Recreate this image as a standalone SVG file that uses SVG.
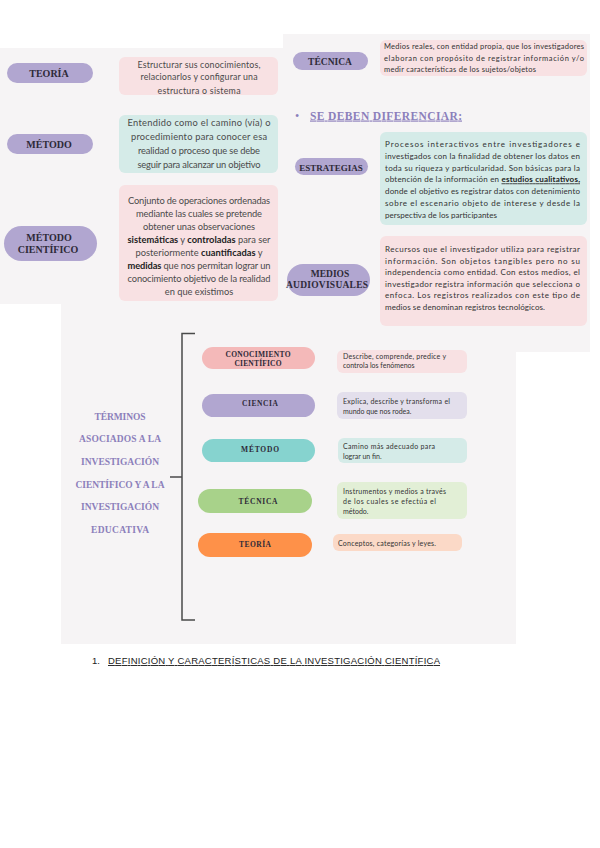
<svg xmlns="http://www.w3.org/2000/svg" width="600" height="848" viewBox="0 0 600 848">
<style>
.panel{fill:#f6f4f5}
.pl{fill:#b1a6d0}
.bpink{fill:#f8e1e3}
.bteal{fill:#d5ebe8}
.lbl{font-family:"Liberation Serif","DejaVu Serif",serif;font-weight:bold;fill:#2e2a38;text-anchor:middle}
.body{font-family:Lato,"Open Sans",sans-serif;fill:#4a4a4a}
.bodyc{font-family:Lato,"Open Sans",sans-serif;fill:#4a4a4a;text-anchor:middle}
.dark{fill:#333}
.ttl{font-family:"Liberation Serif","DejaVu Serif",serif;font-weight:bold;fill:#8c7fbb;text-anchor:middle}
.b{font-weight:bold;fill:#222}
</style>
<rect width="600" height="848" fill="#ffffff"/>
<g id="backgrounds">
<rect class="panel" x="0" y="48" width="283" height="256"/>
<rect class="panel" x="283" y="34" width="307" height="318"/>
<rect class="panel" x="61" y="303" width="455" height="341"/>
</g>

<g id="connectors" fill="none" stroke="#4a4a4a" stroke-width="1.5">
<polyline points="195,333.5 182,333.5 182,620 195,620"/>
<line x1="170" y1="477" x2="182" y2="477"/>
</g>

<g id="n-teoria">
<rect class="pl" x="7" y="63" width="86" height="20" rx="10"/>
<text class="lbl" x="49" y="77" font-size="10">TEORÍA</text>
</g>
<g id="d-teoria">
<rect class="bpink" x="119" y="57" width="159" height="38" rx="6"/>
<text class="bodyc" x="199" y="68" font-size="8.8" textLength="123">Estructurar sus conocimientos,</text>
<text class="bodyc" x="199" y="80" font-size="8.8" textLength="117">relacionarlos y configurar una</text>
<text class="bodyc" x="199" y="93.5" font-size="8.8" textLength="83">estructura o sistema</text>
</g>

<g id="n-metodo">
<rect class="pl" x="7" y="134" width="86" height="20" rx="10"/>
<text class="lbl" x="49" y="147.5" font-size="10">MÉTODO</text>
</g>
<g id="d-metodo">
<rect class="bteal" x="119" y="115" width="159" height="58" rx="6"/>
<text class="bodyc" x="199" y="125.5" font-size="9.3" textLength="143">Entendido como el camino (vía) o</text>
<text class="bodyc" x="199" y="139.5" font-size="9.3" textLength="136">procedimiento para conocer esa</text>
<text class="bodyc" x="199" y="153.5" font-size="9.3" textLength="122">realidad o proceso que se debe</text>
<text class="bodyc" x="199" y="167.5" font-size="9.3" textLength="123">seguir para alcanzar un objetivo</text>
</g>

<g id="n-metodo-cientifico">
<rect class="pl" x="4" y="226" width="93" height="35" rx="17.5"/>
<text class="lbl" x="49" y="240.5" font-size="10">MÉTODO</text>
<text class="lbl" x="48" y="253" font-size="10">CIENTÍFICO</text>
</g>
<g id="d-metodo-cientifico">
<rect class="bpink" x="119" y="185" width="159" height="116" rx="6"/>
<text class="bodyc" x="199" y="203.5" font-size="9.3" textLength="142">Conjunto de operaciones ordenadas</text>
<text class="bodyc" x="199" y="216.5" font-size="9.3" textLength="126">mediante las cuales se pretende</text>
<text class="bodyc" x="199" y="229.5" font-size="9.3" textLength="112">obtener unas observaciones</text>
<text class="bodyc" x="199" y="242.5" font-size="9.3" textLength="143"><tspan class="b">sistemáticas</tspan> y <tspan class="b">controladas</tspan> para ser</text>
<text class="bodyc" x="199" y="255.5" font-size="9.3" textLength="127">posteriormente <tspan class="b">cuantificadas</tspan> y</text>
<text class="bodyc" x="199" y="268.5" font-size="9.3" textLength="143"><tspan class="b">medidas</tspan> que nos permitan lograr un</text>
<text class="bodyc" x="199" y="281.5" font-size="9.3" textLength="143">conocimiento objetivo de la realidad</text>
<text class="bodyc" x="199" y="294.5" font-size="9.3">en que existimos</text>
</g>

<g id="n-tecnica">
<rect class="pl" x="293" y="52" width="75" height="18" rx="9"/>
<text class="lbl" x="330" y="64.5" font-size="9.5">TÉCNICA</text>
</g>
<g id="d-tecnica">
<rect class="bpink" x="380" y="40" width="207" height="36" rx="6"/>
<text class="body dark" x="384" y="49" font-size="7.5" textLength="200" lengthAdjust="spacing">Medios reales, con entidad propia, que los investigadores</text>
<text class="body dark" x="384" y="60.5" font-size="7.5" textLength="200" lengthAdjust="spacing">elaboran con propósito de registrar información y/o</text>
<text class="body dark" x="384" y="72" font-size="7.5" textLength="152">medir características de los sujetos/objetos</text>
</g>

<g id="heading-diferenciar">
<text x="297" y="120" font-family="Liberation Serif,serif" font-size="12" fill="#8c7fbb" text-anchor="middle">•</text>
<text x="310" y="119.5" font-family="Liberation Serif,serif" font-weight="bold" font-size="11.5" fill="#8c7fbb" text-decoration="underline" textLength="152">SE DEBEN DIFERENCIAR:</text>
</g>

<g id="n-estrategias">
<rect class="pl" x="295" y="158" width="73" height="17" rx="8.5"/>
<text class="lbl" x="331" y="170.5" font-size="9">ESTRATEGIAS</text>
</g>
<g id="d-estrategias">
<rect class="bteal" x="380" y="132" width="207" height="93" rx="6"/>
<text class="body dark" x="385" y="147.3" font-size="8" textLength="195" lengthAdjust="spacing">Procesos interactivos entre investigadores e</text>
<text class="body dark" x="385" y="159" font-size="8" textLength="195" lengthAdjust="spacing">investigados con la finalidad de obtener los datos en</text>
<text class="body dark" x="385" y="170.7" font-size="8" textLength="195" lengthAdjust="spacing">toda su riqueza y particularidad. Son básicas para la</text>
<text class="body dark" x="385" y="182.4" font-size="8" textLength="195" lengthAdjust="spacing">obtención de la información en <tspan font-weight="bold" fill="#222" text-decoration="underline">estudios cualitativos,</tspan></text>
<text class="body dark" x="385" y="194.1" font-size="8" textLength="195" lengthAdjust="spacing">donde el objetivo es registrar datos con detenimiento</text>
<text class="body dark" x="385" y="205.8" font-size="8" textLength="195" lengthAdjust="spacing">sobre el escenario objeto de interese y desde la</text>
<text class="body dark" x="385" y="217.5" font-size="8" textLength="112">perspectiva de los participantes</text>
</g>

<g id="n-medios">
<rect class="pl" x="287" y="264" width="83" height="32" rx="16"/>
<text class="lbl" x="330" y="276.5" font-size="9.5">MEDIOS</text>
<text class="lbl" x="327" y="288" font-size="9.5" textLength="82">AUDIOVISUALES</text>
</g>
<g id="d-medios">
<rect class="bpink" x="380" y="236" width="207" height="90" rx="6"/>
<text class="body dark" x="385" y="251.5" font-size="8" textLength="195" lengthAdjust="spacing">Recursos que el investigador utiliza para registrar</text>
<text class="body dark" x="385" y="263.5" font-size="8" textLength="195" lengthAdjust="spacing">información. Son objetos tangibles pero no su</text>
<text class="body dark" x="385" y="275" font-size="8" textLength="195" lengthAdjust="spacing">independencia como entidad. Con estos medios, el</text>
<text class="body dark" x="385" y="286.5" font-size="8" textLength="195" lengthAdjust="spacing">investigador registra información que selecciona o</text>
<text class="body dark" x="385" y="298" font-size="8" textLength="195" lengthAdjust="spacing">enfoca. Los registros realizados con este tipo de</text>
<text class="body dark" x="385" y="310" font-size="8" textLength="160">medios se denominan registros tecnológicos.</text>
</g>

<g id="n-titulo">
<text class="ttl" x="120" y="420" font-size="9.5" textLength="51">TÉRMINOS</text>
<text class="ttl" x="120" y="442" font-size="9.5" textLength="82">ASOCIADOS A LA</text>
<text class="ttl" x="120" y="465" font-size="9.5" textLength="78">INVESTIGACIÓN</text>
<text class="ttl" x="120" y="487.5" font-size="9.5" textLength="89">CIENTÍFICO Y A LA</text>
<text class="ttl" x="120" y="510" font-size="9.5" textLength="78">INVESTIGACIÓN</text>
<text class="ttl" x="120" y="533" font-size="9.5" textLength="58">EDUCATIVA</text>
</g>

<g id="n-conocimiento">
<rect x="202" y="347" width="113" height="22" rx="11" fill="#f4b9b9"/>
<text class="lbl" x="258" y="357" font-size="7.5" textLength="65">CONOCIMIENTO</text>
<text class="lbl" x="258" y="366" font-size="7.5" textLength="47">CIENTÍFICO</text>
</g>
<g id="d-conocimiento">
<rect x="337" y="350" width="130" height="23" rx="6" fill="#f8e1e3"/>
<text class="body dark" x="343" y="358.5" font-size="7" textLength="103">Describe, comprende, predice y</text>
<text class="body dark" x="343" y="367.5" font-size="7">controla los fenómenos</text>
</g>

<g id="n-ciencia">
<rect x="202" y="394" width="113" height="23" rx="11.5" fill="#b1a6d0"/>
<text class="lbl" x="260" y="406" font-size="7.5" textLength="36">CIENCIA</text>
</g>
<g id="d-ciencia">
<rect x="337" y="392" width="130" height="27" rx="6" fill="#e3dfec"/>
<text class="body dark" x="343" y="404" font-size="7" textLength="107">Explica, describe y transforma el</text>
<text class="body dark" x="343" y="413.5" font-size="7">mundo que nos rodea.</text>
</g>

<g id="n-metodo2">
<rect x="202" y="439" width="113" height="23" rx="11.5" fill="#86d3cf"/>
<text class="lbl" x="260" y="452" font-size="7.5" textLength="38">MÉTODO</text>
</g>
<g id="d-metodo2">
<rect x="338" y="438" width="129" height="25" rx="6" fill="#d5ebe8"/>
<text class="body dark" x="343" y="448.5" font-size="7" textLength="92">Camino más adecuado para</text>
<text class="body dark" x="343" y="458.5" font-size="7">lograr un fin.</text>
</g>

<g id="n-tecnica2">
<rect x="198" y="489" width="114" height="24" rx="12" fill="#a8d28a"/>
<text class="lbl" x="258" y="503.5" font-size="7.5" textLength="39">TÉCNICA</text>
</g>
<g id="d-tecnica2">
<rect x="337" y="482" width="130" height="37" rx="6" fill="#e2efd6"/>
<text class="body dark" x="343" y="494" font-size="7" textLength="103">Instrumentos y medios a través</text>
<text class="body dark" x="343" y="503.5" font-size="7" textLength="93">de los cuales se efectúa el</text>
<text class="body dark" x="343" y="513.5" font-size="7">método.</text>
</g>

<g id="n-teoria2">
<rect x="198" y="533" width="114" height="24" rx="12" fill="#fe9149"/>
<text class="lbl" x="255" y="546.5" font-size="7.5" textLength="32">TEORÍA</text>
</g>
<g id="d-teoria2">
<rect x="333" y="534" width="129" height="17" rx="6" fill="#fbd9c7"/>
<text class="body dark" x="338" y="546" font-size="7" textLength="98">Conceptos, categorías y leyes.</text>
</g>

<g id="footer">
<text x="92" y="664" font-family="Liberation Sans,Arial,sans-serif" font-size="9.5" fill="#222">1.</text>
<text x="108" y="664" font-family="Liberation Sans,Arial,sans-serif" font-size="9.5" fill="#222" text-decoration="underline" textLength="332">DEFINICIÓN Y CARACTERÍSTICAS DE LA INVESTIGACIÓN CIENTÍFICA</text>
</g>
</svg>
